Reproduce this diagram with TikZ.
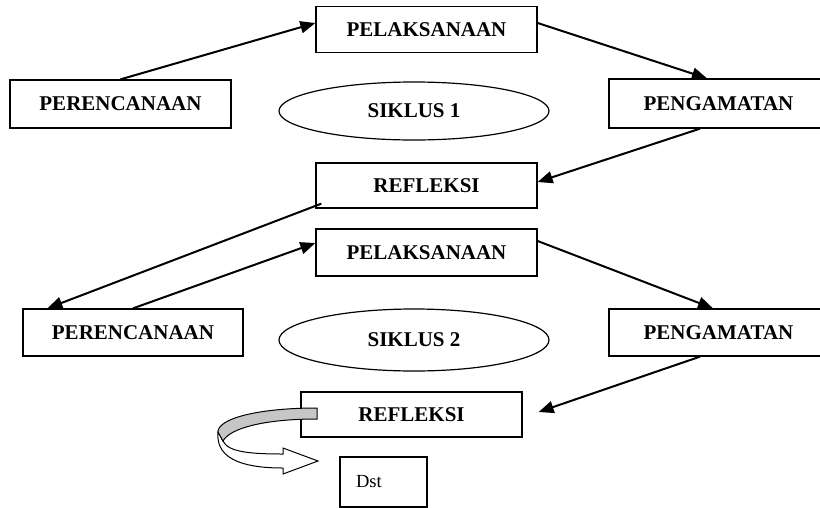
\documentclass[tikz,border=0pt]{standalone}
\usepackage{fontspec}
\setmainfont{Liberation Serif}
\usetikzlibrary{arrows.meta,shapes.geometric}

\tikzset{
  stage/.style={draw, line width=1.3pt, minimum width=221pt, minimum height=46pt,
    inner sep=0pt, font=\bfseries\fontsize{21}{25}\selectfont},
  cycle/.style={draw, ellipse, line width=1.2pt, minimum width=270pt, inner sep=0pt,
    font=\bfseries\fontsize{21}{25}\selectfont},
  flow/.style={line width=2pt, -{Triangle[length=15pt,width=12pt]}}
}

\begin{document}
\begin{tikzpicture}[x=1pt,y=-1pt]
		\useasboundingbox (0,0) rectangle (820,507);

		% siklus 1
		\node[stage] (act1) at (426.5,29.5) {PELAKSANAAN};
		\node[stage, minimum height=48pt] (plan1) at (120.5,104) {PERENCANAAN};
		\node[stage, minimum width=219pt, minimum height=49pt] (obs1) at (718.5,103.5) {PENGAMATAN};
		\node[cycle, minimum height=58pt] (cyc1) at (414,111) {SIKLUS 1};
		\node[stage, minimum height=45pt] (ref1) at (426.5,185.5) {REFLEKSI};

		% siklus 2
		\node[stage, minimum height=47pt] (act2) at (426.5,252.5) {PELAKSANAAN};
		\node[stage, minimum width=220pt, minimum height=47pt] (plan2) at (133,332.5) {PERENCANAAN};
		\node[stage, minimum width=219pt, minimum height=47pt] (obs2) at (718.5,332.5) {PENGAMATAN};
		\node[cycle, minimum height=62pt] (cyc2) at (414,340) {SIKLUS 2};
		\node[stage, minimum height=45pt] (ref2) at (411.5,414.5) {REFLEKSI};

		\node[draw, line width=1.3pt, text width=55pt, inner xsep=16pt, minimum height=50pt,
		  align=left, font=\fontsize{18.5}{22}\selectfont] (dst) at (383.5,482) {Dst};

		\draw[flow] (plan1.north) -- ([yshift=6.5pt]act1.west);
		\draw[flow] ([yshift=6.5pt]act1.east) -- ([xshift=-11.5pt]obs1.north);
		\draw[flow] ([xshift=-18.5pt]obs1.south) -- ([yshift=3.5pt]ref1.east);
		\draw[flow] ([xshift=6pt,yshift=5pt]ref1.south west) -- ([xshift=25pt]plan2.north west);
		\draw[flow] (plan2.north) -- ([yshift=9.5pt]act2.west);
		\draw[flow] ([yshift=11.5pt]act2.east) -- ([xshift=-5.5pt]obs2.north);
		\draw[flow] ([xshift=-18.5pt]obs2.south) -- ([xshift=16pt,yshift=2.5pt]ref2.east);

		% curved block arrow to dst
		\draw[line width=1pt, fill=white] (218,432) .. controls (215,462) and (250,468) .. (283,468)
		  -- (283,474) -- (318,461) -- (283,448) -- (283,454)
		  .. controls (250,454) and (228,452) .. (223,441) -- cycle;
		\draw[line width=1pt, fill=gray!45] (317,408) .. controls (260,408) and (218,418) .. (218,432)
		  -- (223,441) .. controls (230,428) and (265,419) .. (317,419) -- cycle;

	\end{tikzpicture}
\end{document}
